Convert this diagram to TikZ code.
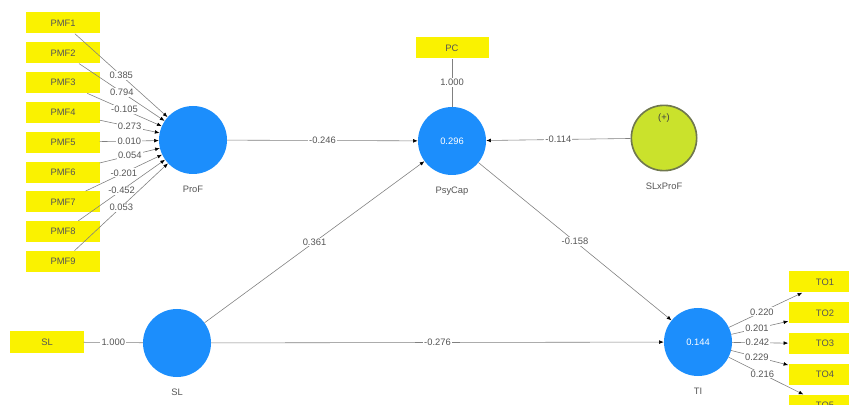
\documentclass[tikz,border=0pt]{standalone}
\usepackage{fontspec}
\setmainfont{Liberation Sans}
\usetikzlibrary{arrows.meta,positioning}

\definecolor{plsblue}{RGB}{28,142,252}
\definecolor{plsyellow}{RGB}{250,242,0}
\definecolor{plsgreen}{RGB}{202,226,44}
\definecolor{plsolive}{RGB}{112,120,78}
\definecolor{plsline}{RGB}{128,128,128}
\definecolor{plstext}{RGB}{85,85,85}

\begin{document}
\begin{tikzpicture}[
        x=0.03cm, y=-0.03cm,
        node distance=0.25cm,
        every node/.style={font=\fontsize{8}{9}\selectfont, text=plstext},
        indicator/.style={fill=plsyellow, minimum width=2.19cm, minimum height=0.63cm, inner sep=0pt},
        construct/.style={circle, fill=plsblue, minimum size=2.04cm, inner sep=0pt, text=white},
        moderator/.style={circle, fill=plsgreen, draw=plsolive, line width=1.4pt, minimum size=1.96cm, inner sep=0pt},
        caption/.style={inner sep=1pt},
        coef/.style={fill=white, inner sep=1pt},
        link/.style={draw=plsline, line width=0.5pt},
        edge/.style={link, -{Latex[length=4pt,width=3.2pt,color=black]}}
    ]

    \path[use as bounding box, clip] (0,0) rectangle (849,405);

    % Constructs
    \node[construct] (prof) at (193,140) {};
    \node[construct] (psycap) at (452,141) {0.296};
    \node[moderator] (slxprof) at (664,138) {};
    \node[construct] (sl) at (177,343) {};
    \node[construct] (ti) at (698,342) {0.144};

    \node[caption, below=0.3cm of prof] (profcap) {ProF};
    \node[caption, below=0.3cm of psycap] (psycapcap) {PsyCap};
    \node[caption, below=0.3cm of slxprof] (slxprofcap) {SLxProF};
    \node[caption, below=0.3cm of sl] (slcap) {SL};
    \node[caption, below=0.3cm of ti] (ticap) {TI};
    \node[caption, text=black!75] (plusmark) at ([yshift=0.6cm]slxprof.center) {(+)};

    % Indicators of ProF
    \node[indicator] (pmf1) at (63,23) {PMF1};
    \node[indicator, below=of pmf1] (pmf2) {PMF2};
    \node[indicator, below=of pmf2] (pmf3) {PMF3};
    \node[indicator, below=of pmf3] (pmf4) {PMF4};
    \node[indicator, below=of pmf4] (pmf5) {PMF5};
    \node[indicator, below=of pmf5] (pmf6) {PMF6};
    \node[indicator, below=of pmf6] (pmf7) {PMF7};
    \node[indicator, below=of pmf7] (pmf8) {PMF8};
    \node[indicator, below=of pmf8] (pmf9) {PMF9};

    % Single items
    \node[indicator] (pc) at (452,48) {PC};
    \node[indicator] (slitem) at (47,342) {SL};

    % Indicators of TI
    \node[indicator] (to1) at (825,282) {TO1};
    \node[indicator, below=0.28cm of to1] (to2) {TO2};
    \node[indicator, below=0.28cm of to2] (to3) {TO3};
    \node[indicator, below=0.28cm of to3] (to4) {TO4};
    \node[indicator, below=0.28cm of to4] (to5) {TO5};

    % Outer weights
    \draw[edge] (pmf1) -- node[coef] {0.385} (prof);
    \draw[edge] (pmf2) -- node[coef] {0.794} (prof);
    \draw[edge] (pmf3) -- node[coef] {-0.105} (prof);
    \draw[edge] (pmf4) -- node[coef] {0.273} (prof);
    \draw[edge] (pmf5) -- node[coef] {0.010} (prof);
    \draw[edge] (pmf6) -- node[coef] {0.054} (prof);
    \draw[edge] (pmf7) -- node[coef] {-0.201} (prof);
    \draw[edge] (pmf8) -- node[coef] {-0.452} (prof);
    \draw[edge] (pmf9) -- node[coef] {0.053} (prof);

    % Loadings
    \draw[link] (psycap) -- node[coef] {1.000} (pc);
    \draw[link] (sl) -- node[coef] {1.000} (slitem);
    \draw[edge] (ti) -- node[coef, pos=0.45] {0.220} (to1);
    \draw[edge] (ti) -- node[coef, pos=0.45] {0.201} (to2);
    \draw[edge] (ti) -- node[coef, pos=0.45] {0.242} (to3);
    \draw[edge] (ti) -- node[coef, pos=0.45] {0.229} (to4);
    \draw[edge] (ti) -- node[coef, pos=0.45] {0.216} (to5);

    % Path coefficients
    \draw[edge] (prof) -- node[coef] {-0.246} (psycap);
    \draw[edge] (slxprof) -- node[coef] {-0.114} (psycap);
    \draw[edge] (sl) -- node[coef] {0.361} (psycap);
    \draw[edge] (psycap) -- node[coef] {-0.158} (ti);
    \draw[edge] (sl) -- node[coef] {-0.276} (ti);

\end{tikzpicture}
\end{document}
